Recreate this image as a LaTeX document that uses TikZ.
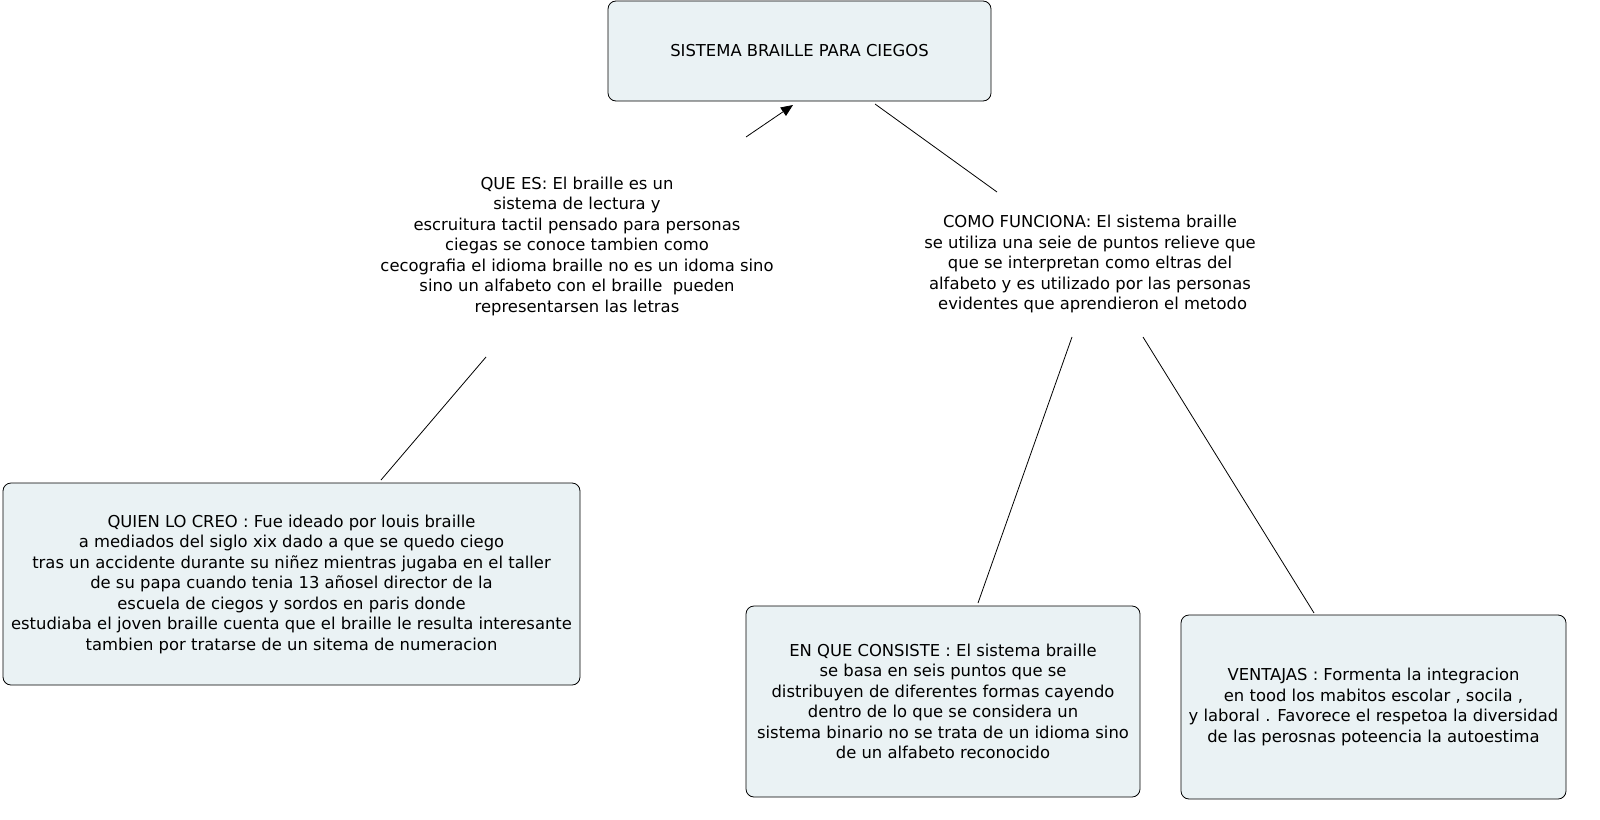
\documentclass[tikz,border=0pt]{standalone}
\usepackage{fontspec}
\setmainfont{DejaVu Sans}
\usetikzlibrary{arrows.meta}
\definecolor{boxfill}{HTML}{EAF2F4}
\begin{document}
\begin{tikzpicture}[x=1pt,y=-1pt,
  box/.style={draw=black,fill=boxfill,rounded corners=8pt,line width=0.8pt,align=center,font=\fontsize{16.4}{20.5}\selectfont},
  txt/.style={align=center,font=\fontsize{16.4}{20.5}\selectfont},
  conn/.style={line width=0.8pt}]
\useasboundingbox (0,0) rectangle (1600,819);
\node[box,minimum width=383pt,minimum height=100pt] (top) at (799.5,51) {SISTEMA BRAILLE PARA CIEGOS};
\node[txt] (quees) at (577,246) {QUE ES: El braille es un\\sistema de lectura y\\escruitura tactil pensado para personas\\ciegas se conoce tambien como\\cecografia el idioma braille no es un idoma sino\\sino un alfabeto con el braille\ \ pueden\\representarsen las letras};
\node[txt] (como) at (1090,264) {COMO FUNCIONA: El sistema braille\\se utiliza una seie de puntos relieve que\\que se interpretan como eltras del\\alfabeto y es utilizado por las personas\\\ evidentes que aprendieron el metodo};
\node[box,minimum width=577pt,minimum height=202pt] (quien) at (291.5,584) {QUIEN LO CREO : Fue ideado por louis braille\\a mediados del siglo xix dado a que se quedo ciego\\tras un accidente durante su niñez mientras jugaba en el taller\\de su papa cuando tenia 13 añosel director de la\\escuela de ciegos y sordos en paris donde\\estudiaba el joven braille cuenta que el braille le resulta interesante\\tambien por tratarse de un sitema de numeracion};
\node[box,minimum width=394pt,minimum height=191pt] (consiste) at (943,701.5) {EN QUE CONSISTE : El sistema braille\\se basa en seis puntos que se\\distribuyen de diferentes formas cayendo\\dentro de lo que se considera un\\sistema binario no se trata de un idioma sino\\de un alfabeto reconocido};
\node[box,minimum width=385pt,minimum height=184pt] (ventajas) at (1373.5,707) {VENTAJAS : Formenta la integracion\\en tood los mabitos escolar , socila ,\\y laboral . Favorece el respetoa la diversidad\\de las perosnas poteencia la autoestima};
\coordinate (a1) at (746,137); \coordinate (a2) at (793,105);
\coordinate (b1) at (875,104); \coordinate (b2) at (997,192);
\coordinate (c1) at (486,357); \coordinate (c2) at (381,480);
\coordinate (d1) at (1072,337); \coordinate (d2) at (978,603);
\coordinate (e1) at (1143,337); \coordinate (e2) at (1314,613);
\draw[conn,-{Triangle[length=12pt,width=10pt]}] (a1) -- (a2);
\draw[conn] (b1) -- (b2);
\draw[conn] (c1) -- (c2);
\draw[conn] (d1) -- (d2);
\draw[conn] (e1) -- (e2);
\end{tikzpicture}
\end{document}
